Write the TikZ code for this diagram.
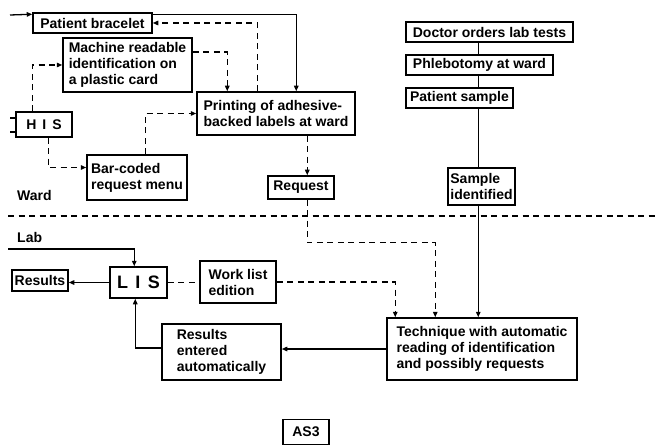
\documentclass[tikz,border=0pt]{standalone}
\usepackage{fontspec}
\setmainfont{Liberation Sans}
\usetikzlibrary{arrows.meta,calc}
\begin{document}
\begin{tikzpicture}[x=1pt,y=-1pt,
  txt/.style={font=\bfseries\fontsize{14}{16}\selectfont},
  box/.style={txt, draw, line width=1.5pt, inner sep=0pt, align=left},
  plainln/.style={line width=1.3pt},
  conn/.style={plainln, -{Triangle[length=5.5pt,width=4.5pt]}},
  dashln/.style={line width=1.3pt, dash pattern=on 6pt off 4.5pt},
  dconn/.style={dashln, -{Triangle[length=5.5pt,width=4.5pt]}},
  lbl/.style={txt, inner sep=0pt, anchor=west}
]
\useasboundingbox (0,0) rectangle (655,446);

% ---- ward side ----
\node[box, minimum width=119pt, minimum height=20pt] (bracelet) at (92.5,23) {Patient bracelet};
\node[box, minimum width=129pt, minimum height=54pt] (machine) at (127.5,65)
  {Machine readable\\identification on\\a plastic card};
\node[box, minimum width=158pt, minimum height=43pt] (printing) at (276,113.5)
  {Printing of adhesive-\\backed labels at ward};
\node[box, minimum width=56pt, minimum height=25pt] (his) at (44,124.5) {H\hspace{6pt}I\hspace{6pt}S};
\node[box, minimum width=100pt, minimum height=45pt] (barcoded) at (137,177.5)
  {Bar-coded\\request menu};
\node[box, minimum width=66pt, minimum height=23pt] (request) at (301,187.5) {Request};

\node[box, minimum width=167pt, minimum height=20pt] (doctor) at (489.5,32) {Doctor orders lab tests};
\node[box, minimum width=147pt, minimum height=20pt] (phleb) at (479.5,65) {Phlebotomy at ward};
\node[box, minimum width=107pt, minimum height=20pt] (psample) at (459.5,98) {Patient sample};
\node[box, minimum width=67pt, minimum height=37pt] (sampleid) at (481.5,186.5) {Sample\\identified};

\node[lbl] (ward) at (17,195) {Ward};
\node[lbl] (lab) at (17,237) {Lab};

% ---- lab side ----
\node[box, minimum width=56pt, minimum height=21pt] (results) at (40,280.5) {Results};
\node[box, minimum width=57pt, minimum height=31pt, font=\bfseries\fontsize{18}{20}\selectfont] (lis) at (138.5,282.5)
  {L\hspace{7.5pt}I\hspace{7.5pt}S};
\node[box, minimum width=76pt, minimum height=42pt] (worklist) at (238,282) {Work list\\edition};
\node[box, minimum width=119pt, minimum height=56pt] (resent) at (221.5,352)
  {Results\\entered\\automatically};
\node[box, minimum width=190pt, minimum height=62pt] (tech) at (482,349)
  {Technique with automatic\\reading of identification\\and possibly requests};
\node[box, minimum width=46pt, minimum height=25pt] (as3) at (306,432) {AS3};

% ---- free ends ----
\coordinate (braceletin) at (10,15);
\coordinate (hisinA) at (10,118);
\coordinate (hisinB) at (10,132);
\coordinate (labin) at (8,249);
\coordinate (sepL) at (8,216);
\coordinate (sepR) at (655,216);

% ---- ward connectors ----
\draw[conn] (braceletin) -- ($(bracelet.north west)+(0,2)$);
\draw[conn] ($(bracelet.north east)+(0,2)$) -| ($(printing.north west)+(100,0)$);
\draw[dconn] ($(printing.north west)+(61,0)$) |- (bracelet.east);
\draw[dconn] ($(machine.east)+(0,-13)$) -| ($(printing.north west)+(31,0)$);
\draw[dconn] ($(his.north west)+(17,0)$) |- (machine.west);
\draw[dconn] ($(his.south west)+(33,0)$) |- ($(barcoded.west)+(0,-10)$);
\draw[dconn] ($(barcoded.north west)+(59,0)$) |- (printing.west);
\draw[plainln] (hisinA) -- (his.west |- hisinA);
\draw[plainln] (hisinB) -- (his.west |- hisinB);
\draw[dconn] ($(printing.south west)+(111,0)$) -- ($(request.north west)+(40,0)$);

\draw[plainln] ($(doctor.south west)+(73,0)$) -- ($(phleb.north west)+(73,0)$);
\draw[plainln] ($(phleb.south west)+(73,0)$) -- ($(psample.north west)+(73,0)$);
\draw[plainln] ($(psample.south west)+(73,0)$) -- ($(sampleid.north west)+(31,0)$);

% ---- ward / lab boundary ----
\draw[dashln] (sepL) -- (sepR);

% ---- lab connectors ----
\draw[dconn] ($(request.south west)+(40,0)$) -- ++(0,43) -| ($(tech.north west)+(49,0)$);
\draw[conn] ($(sampleid.south west)+(31,0)$) -- ($(tech.north west)+(92,0)$);
\draw[conn] (labin) -| ($(lis.north west)+(25,0)$);
\draw[conn] (lis.west) -- (results.east |- lis.west);
\draw[dashln] (lis.east) -- (worklist.west |- lis.east);
\draw[dconn] (worklist.east) -| ($(tech.north west)+(9,0)$);
\draw[conn] (tech.west) -- (resent.east |- tech.west);
\draw[conn] ($(resent.west)+(0,-4)$) -| ($(lis.south west)+(26,0)$);
\end{tikzpicture}
\end{document}
